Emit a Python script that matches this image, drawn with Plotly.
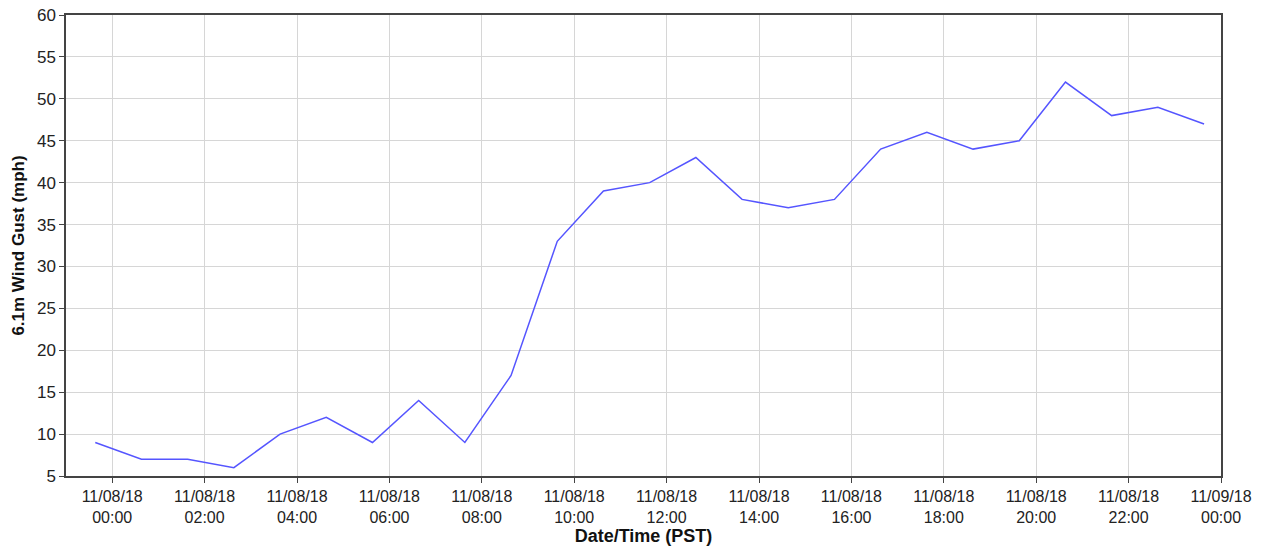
import plotly.graph_objects as go

times = [
    "2018-11-07 23:38", "2018-11-08 00:38", "2018-11-08 01:38", "2018-11-08 02:38",
    "2018-11-08 03:38", "2018-11-08 04:38", "2018-11-08 05:38", "2018-11-08 06:38",
    "2018-11-08 07:38", "2018-11-08 08:38", "2018-11-08 09:38", "2018-11-08 10:38",
    "2018-11-08 11:38", "2018-11-08 12:38", "2018-11-08 13:38", "2018-11-08 14:38",
    "2018-11-08 15:38", "2018-11-08 16:38", "2018-11-08 17:38", "2018-11-08 18:38",
    "2018-11-08 19:38", "2018-11-08 20:38", "2018-11-08 21:38", "2018-11-08 22:38",
    "2018-11-08 23:38",
]
gust = [9, 7, 7, 6, 10, 12, 9, 14, 9, 17, 33, 39, 40, 43, 38, 37, 38, 44, 46, 44, 45, 52, 48, 49, 47]

tick_vals = [
    "2018-11-08 00:00", "2018-11-08 02:00", "2018-11-08 04:00", "2018-11-08 06:00",
    "2018-11-08 08:00", "2018-11-08 10:00", "2018-11-08 12:00", "2018-11-08 14:00",
    "2018-11-08 16:00", "2018-11-08 18:00", "2018-11-08 20:00", "2018-11-08 22:00",
    "2018-11-09 00:00",
]
tick_text = [
    "11/08/18<br>00:00", "11/08/18<br>02:00", "11/08/18<br>04:00", "11/08/18<br>06:00",
    "11/08/18<br>08:00", "11/08/18<br>10:00", "11/08/18<br>12:00", "11/08/18<br>14:00",
    "11/08/18<br>16:00", "11/08/18<br>18:00", "11/08/18<br>20:00", "11/08/18<br>22:00",
    "11/09/18<br>00:00",
]
y_ticks = [5, 10, 15, 20, 25, 30, 35, 40, 45, 50, 55, 60]

fig = go.Figure()
fig.add_trace(go.Scatter(
    x=times, y=gust, mode="lines",
    line=dict(color="#5555ff", width=1.5),
    showlegend=False,
))

font_family = "Liberation Sans, Arial, sans-serif"
fig.update_layout(
    width=1263, height=548,
    margin=dict(l=66, r=42, t=15, b=72, autoexpand=False),
    paper_bgcolor="white", plot_bgcolor="white",
    font=dict(family=font_family, size=16, color="#222"),
    xaxis=dict(
        range=["2018-11-07 23:00", "2018-11-09 00:00"],
        tickvals=tick_vals, ticktext=tick_text,
        showgrid=True, gridcolor="#d6d6d6", gridwidth=1.2,
        showline=True, linecolor="#444", linewidth=1.5, mirror=True,
        ticks="outside", ticklen=5, tickcolor="#444",
        tickfont=dict(size=16, color="#222"),
        title=dict(text="<b>Date/Time (PST)</b>", font=dict(size=18, color="#111"), standoff=2),
        zeroline=False,
        automargin=False,
    ),
    yaxis=dict(
        range=[5, 60],
        tickvals=y_ticks,
        showgrid=True, gridcolor="#d6d6d6", gridwidth=1.2,
        showline=True, linecolor="#444", linewidth=1.5, mirror=True,
        ticks="outside", ticklen=5, tickcolor="#444",
        tickfont=dict(size=17, color="#222"),
        title=dict(text="<b>6.1m Wind Gust (mph)</b>", font=dict(size=17, color="#111"), standoff=8),
        zeroline=False,
        automargin=False,
    ),
)

fig.write_html("out.html", config={"displayModeBar": False},
               post_script="document.body.style.margin='0';")
